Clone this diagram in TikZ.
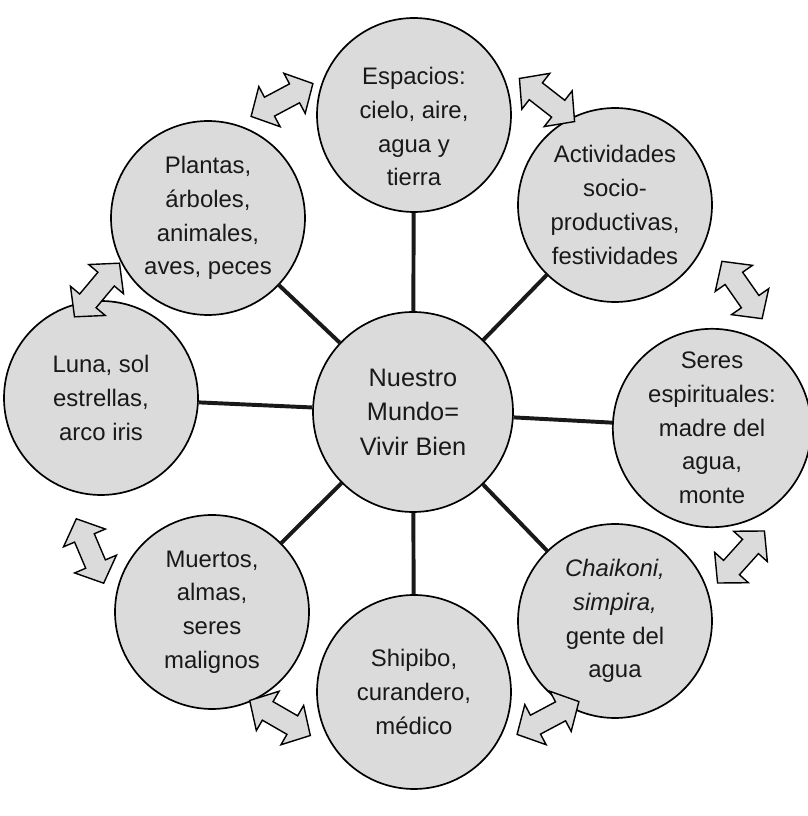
\documentclass[tikz,border=0pt]{standalone}
\usepackage{fontspec}
\setmainfont{Liberation Sans}
\usepackage{tikz}
\usetikzlibrary{shapes,arrows,positioning}
\definecolor{discgray}{gray}{0.86}

\tikzset{
    disc/.style={circle, draw=black, line width=1.2pt, fill=discgray, minimum size=4.85cm,
        inner sep=0pt, align=center, font=\fontsize{17}{24}\selectfont, text=black!90},
    spoke/.style={line width=2.8pt, black!90},
    twoway/.style={double arrow, draw=black, line width=1pt, fill=discgray, minimum height=1.75cm,
        inner sep=0.25cm, double arrow head extend=0.3cm, double arrow tip angle=95}
}

\begin{document}
\begin{tikzpicture}
        \useasboundingbox (0,0) rectangle (20.2,20.4);
        % center and the eight outer circles
        \node[disc, minimum size=5cm, font=\fontsize{18}{24.5}\selectfont] (mundo) at (10.325,10.1) {Nuestro\\Mundo=\\Vivir Bien};
        \node[disc, text height=3.55cm] (espacios) at (10.35,17.525) {Espacios:\\cielo, aire,\\agua y\\tierra};
        \node[disc] (plantas) at (5.2,14.95) {Plantas,\\árboles,\\animales,\\aves, peces};
        \node[disc] (actividades) at (15.375,15.275) {Actividades\\socio-\\productivas,\\festividades};
        \node[disc] (seres) at (17.8,9.7) {Seres\\espirituales:\\madre del\\agua,\\monte};
        \node[disc] (chaikoni) at (15.375,4.875) {\textit{Chaikoni,}\\\textit{simpira,}\\gente del\\agua};
        \node[disc] (shipibo) at (10.35,3.1) {Shipibo,\\curandero,\\médico};
        \node[disc] (muertos) at (5.3,5.1) {Muertos,\\almas,\\seres\\malignos};
        \node[disc] (luna) at (2.525,10.45) {Luna, sol\\estrellas,\\arco iris};

        \foreach \n in {espacios,plantas,actividades,seres,chaikoni,shipibo,muertos,luna}
            \draw[spoke] (mundo) -- (\n);

        % double arrows between neighbours
        \node[twoway, rotate=28] (a1) at (7.05,17.9) {};
        \node[twoway, rotate=-38] (a2) at (13.675,17.9) {};
        \node[twoway, rotate=-55] (a3) at (18.55,13.15) {};
        \node[twoway, rotate=48] (a4) at (18.525,6.475) {};
        \node[twoway, rotate=28] (a5) at (13.7,2.45) {};
        \node[twoway, rotate=-30] (a6) at (7.0,2.45) {};
        \node[twoway, rotate=-67] (a7) at (2.25,6.625) {};
        \node[twoway, rotate=50] (a8) at (2.425,13.15) {};
\end{tikzpicture}
\end{document}
